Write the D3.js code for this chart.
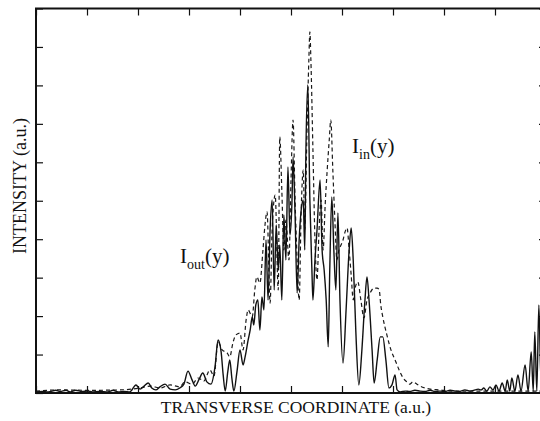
<!DOCTYPE html>
<html>
<head>
<meta charset="utf-8">
<script src="https://cdn.jsdelivr.net/npm/d3@7"></script>
<style>
  html, body { margin: 0; padding: 0; background: #fff; }
  svg { display: block; }
  .label { font-family: "Liberation Serif", "DejaVu Serif", serif; fill: #111; }
</style>
</head>
<body>
<script>
(function () {

    // tick positions (no numeric labels on this figure)
    let xTicks = [0, 1, 2, 3, 4, 5, 6, 7, 8, 9, 10];
    let yTicks = [0, 1, 2, 3, 4, 5, 6, 7, 8, 9, 10];

    // output intensity I_out(y), solid curve [coordinate, intensity]
    let outData = [
        [0, 0.03], [0.12, 0.04], [0.24, 0.03], [0.39, 0.07], [0.47, 0.04], [0.59, 0.07], [0.67, 0.03],
        [0.78, 0.07], [0.90, 0.04], [1.02, 0.05], [1.10, 0.03], [1.25, 0.04], [1.41, 0.03], [1.51, 0.07],
        [1.61, 0.03], [1.73, 0.04], [1.84, 0.03], [1.96, 0.21], [2.04, 0.10], [2.12, 0.18], [2.20, 0.26],
        [2.27, 0.13], [2.35, 0.08], [2.43, 0.16], [2.53, 0.23], [2.63, 0.10], [2.73, 0.08], [2.82, 0.13],
        [2.90, 0.23], [2.98, 0.57], [3.06, 0.34], [3.12, 0.18], [3.20, 0.36], [3.27, 0.52], [3.35, 0.29],
        [3.43, 0.23], [3.51, 0.68], [3.57, 1.38], [3.63, 1.07], [3.67, 0.47], [3.71, 0.05], [3.76, 0.55],
        [3.80, 0.86], [3.84, 0.39], [3.88, 0.05], [3.94, 0.55], [4.00, 1.12], [4.06, 0.73], [4.10, 0.94],
        [4.16, 1.38], [4.20, 1.64], [4.24, 1.98], [4.27, 1.77], [4.31, 2.29], [4.35, 2.42], [4.39, 1.64],
        [4.43, 2.50], [4.47, 2.16], [4.51, 3.98], [4.55, 2.42], [4.59, 4.24], [4.63, 5.02], [4.67, 2.68],
        [4.71, 4.37], [4.75, 3.20], [4.78, 3.85], [4.82, 2.42], [4.86, 4.63], [4.90, 3.46], [4.94, 5.88],
        [4.98, 4.11], [5.02, 5.02], [5.04, 6.14], [5.08, 4.63], [5.12, 2.60], [5.16, 3.98], [5.20, 4.76],
        [5.24, 5.02], [5.27, 3.72], [5.29, 6.06], [5.33, 8.01], [5.37, 5.02], [5.41, 3.20], [5.43, 2.42],
        [5.47, 3.46], [5.51, 4.24], [5.57, 5.54], [5.61, 3.72], [5.65, 3.20], [5.69, 2.42], [5.73, 1.20],
        [5.76, 3.20], [5.80, 5.10], [5.84, 3.72], [5.88, 2.68], [5.92, 4.68], [5.96, 2.42], [6.02, 0.78],
        [6.08, 2.16], [6.14, 3.72], [6.18, 4.29], [6.22, 3.46], [6.27, 1.64], [6.33, 0.21], [6.39, 1.12],
        [6.45, 2.42], [6.49, 3.02], [6.53, 2.42], [6.59, 1.12], [6.63, 0.26], [6.69, 0.86], [6.75, 1.46],
        [6.80, 1.46], [6.86, 0.86], [6.92, 0.13], [6.98, 0.21], [7.04, 0.47], [7.08, 0.08], [7.14, 0.03],
        [7.24, 0.05], [7.33, 0.04], [7.43, 0.07], [7.53, 0.05], [7.63, 0.04], [7.73, 0.07], [7.82, 0.04],
        [7.92, 0.05], [8.02, 0.04], [8.12, 0.07], [8.22, 0.05], [8.31, 0.04], [8.41, 0.08], [8.51, 0.05],
        [8.61, 0.08], [8.67, 0.10], [8.73, 0.08], [8.78, 0.13], [8.84, 0.05], [8.90, 0.16], [8.96, 0.08],
        [9.02, 0.21], [9.08, 0.05], [9.14, 0.26], [9.20, 0.05], [9.24, 0.34], [9.29, 0.05], [9.33, 0.39],
        [9.39, 0.05], [9.45, 0.47], [9.51, 0.05], [9.59, 0.73], [9.65, 0.05], [9.71, 1.07], [9.75, 0.05],
        [9.78, 1.59], [9.82, 0.05], [9.86, 2.29], [9.90, 0.34], [9.94, 3.20]
    ];

    // input intensity I_in(y), dashed curve [coordinate, intensity]
    let inData = [
        [0, 0.05], [0.47, 0.08], [1.06, 0.07], [1.65, 0.08], [2.04, 0.13], [2.24, 0.18], [2.43, 0.13],
        [2.63, 0.21], [2.82, 0.16], [2.92, 0.29], [3.06, 0.23], [3.18, 0.39], [3.29, 0.31], [3.41, 0.60],
        [3.49, 0.44], [3.57, 1.33], [3.65, 1.12], [3.75, 1.04], [3.80, 0.94], [3.86, 1.30], [3.92, 1.51],
        [4.00, 1.56], [4.06, 1.12], [4.12, 1.90], [4.16, 2.16], [4.24, 1.98], [4.29, 2.68], [4.33, 3.02],
        [4.39, 2.86], [4.45, 3.72], [4.49, 4.37], [4.53, 4.71], [4.59, 2.34], [4.63, 4.24], [4.69, 5.15],
        [4.75, 2.68], [4.78, 6.66], [4.82, 5.28], [4.86, 3.72], [4.90, 4.50], [4.96, 3.46], [5.00, 5.54],
        [5.04, 7.10], [5.08, 5.02], [5.12, 3.46], [5.16, 2.42], [5.20, 4.76], [5.24, 5.80], [5.27, 4.24],
        [5.31, 6.58], [5.35, 8.66], [5.37, 9.39], [5.39, 8.66], [5.43, 6.32], [5.47, 3.98], [5.51, 2.94],
        [5.55, 4.24], [5.59, 5.02], [5.63, 3.72], [5.67, 4.89], [5.71, 5.80], [5.75, 6.58], [5.78, 7.10],
        [5.82, 5.80], [5.86, 4.50], [5.90, 3.46], [5.94, 3.72], [5.98, 3.85], [6.02, 3.98], [6.06, 4.19],
        [6.10, 4.29], [6.14, 3.72], [6.18, 3.07], [6.22, 2.42], [6.25, 2.68], [6.31, 2.89], [6.37, 2.42],
        [6.43, 1.95], [6.49, 2.42], [6.55, 2.60], [6.63, 2.73], [6.69, 2.73], [6.73, 2.68], [6.76, 2.29],
        [6.80, 1.98], [6.88, 1.51], [6.96, 1.12], [7.04, 0.86], [7.12, 0.60], [7.20, 0.39], [7.27, 0.29],
        [7.33, 0.23], [7.39, 0.29], [7.47, 0.23], [7.53, 0.18], [7.63, 0.13], [7.73, 0.10], [7.92, 0.08],
        [8.12, 0.05], [8.61, 0.05], [9.10, 0.05], [9.59, 0.05], [10, 0.05]
    ];

    window.onload = function () {
        let width = 540,
            height = 421;

        let svg = d3.select("body")
            .append("svg")
            .attr("width", width)
            .attr("height", height);

        svg.append("rect")
            .attr("width", width)
            .attr("height", height)
            .attr("fill", "#fff");

        //plot box; the right frame edge sits just outside the picture
        let x = d3.scaleLinear().domain([0, 10]).range([36, 546]);
        let y = d3.scaleLinear().domain([0, 10]).range([393, 8.5]);

        svg.append("clipPath")
            .attr("id", "plotClip")
            .append("rect")
            .attr("x", 36)
            .attr("y", 8.5)
            .attr("width", 510)
            .attr("height", 384.5);

        //monotone keeps the fringes rounded without dipping below zero
        let line = d3.line()
            .curve(d3.curveMonotoneX)
            .x(function (d) { return x(d[0]); })
            .y(function (d) { return y(d[1]); });

        let curves = svg.append("g").attr("clip-path", "url(#plotClip)");

        curves.append("path")
            .datum(inData)
            .attr("class", "inCurve")
            .attr("d", line)
            .attr("fill", "none")
            .attr("stroke", "#1a1a1a")
            .attr("stroke-width", 1.2)
            .attr("stroke-dasharray", "4,3");

        curves.append("path")
            .datum(outData)
            .attr("class", "outCurve")
            .attr("d", line)
            .attr("fill", "none")
            .attr("stroke", "#111")
            .attr("stroke-width", 1.4)
            .attr("stroke-linejoin", "round");

        //inward ticks on all four sides, no numbers
        function styleAxis(g) {
            g.select(".domain").remove();
            g.selectAll(".tick line").attr("stroke", "#111").attr("stroke-width", 1.2);
        }

        svg.append("g")
            .attr("transform", "translate(0,393)")
            .call(d3.axisBottom(x).tickValues(xTicks).tickSize(-7).tickFormat(""))
            .call(styleAxis);

        svg.append("g")
            .attr("transform", "translate(0,8.5)")
            .call(d3.axisTop(x).tickValues(xTicks).tickSize(-7).tickFormat(""))
            .call(styleAxis);

        svg.append("g")
            .attr("transform", "translate(36,0)")
            .call(d3.axisLeft(y).tickValues(yTicks).tickSize(-7).tickFormat(""))
            .call(styleAxis);

        svg.append("g")
            .attr("transform", "translate(546,0)")
            .call(d3.axisRight(y).tickValues(yTicks).tickSize(-7).tickFormat(""))
            .call(styleAxis);

        svg.append("rect")
            .attr("x", 36)
            .attr("y", 8.5)
            .attr("width", 510)
            .attr("height", 384.5)
            .attr("fill", "none")
            .attr("stroke", "#111")
            .attr("stroke-width", 2);

        //axis titles
        svg.append("text")
            .attr("class", "label")
            .attr("x", 296)
            .attr("y", 413)
            .attr("text-anchor", "middle")
            .style("font-size", "17.5px")
            .text("TRANSVERSE COORDINATE (a.u.)");

        svg.append("text")
            .attr("class", "label")
            .attr("transform", "translate(26,186) rotate(-90)")
            .attr("text-anchor", "middle")
            .style("font-size", "18px")
            .text("INTENSITY (a.u.)");

        //curve labels
        let outLabel = svg.append("text")
            .attr("class", "label")
            .attr("x", 180)
            .attr("y", 263)
            .style("font-size", "21px");
        outLabel.append("tspan").text("I");
        outLabel.append("tspan").attr("dy", 6).style("font-size", "14px").text("out");
        outLabel.append("tspan").attr("dy", -6).text("(y)");

        let inLabel = svg.append("text")
            .attr("class", "label")
            .attr("x", 352)
            .attr("y", 153)
            .style("font-size", "21px");
        inLabel.append("tspan").text("I");
        inLabel.append("tspan").attr("dy", 6).style("font-size", "14px").text("in");
        inLabel.append("tspan").attr("dy", -6).text("(y)");
    };

})();
</script>
</body>
</html>
